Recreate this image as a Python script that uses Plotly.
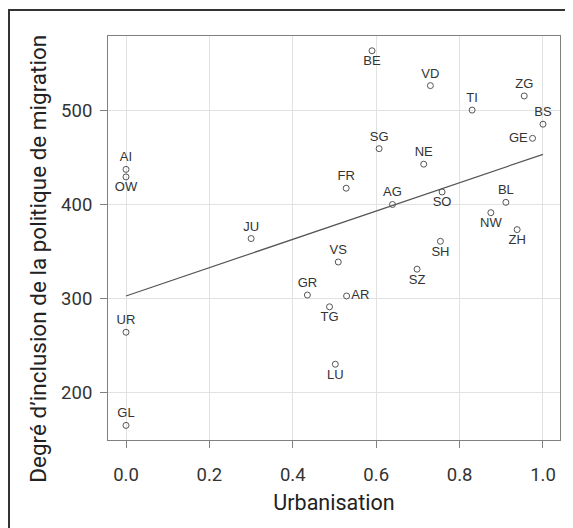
import plotly.graph_objects as go

cantons = ["AI", "OW", "JU", "BE", "VD", "TI", "ZG", "BS", "GE", "SG", "NE", "FR", "AG", "SO",
           "BL", "NW", "ZH", "VS", "SH", "SZ", "AR", "TG", "LU", "GR", "UR", "GL"]
urbanisation = [0.0, 0.0, 0.30, 0.59, 0.73, 0.83, 0.955, 1.0, 0.975, 0.607, 0.714, 0.528, 0.639, 0.758,
                0.911, 0.875, 0.938, 0.509, 0.754, 0.698, 0.529, 0.488, 0.502, 0.435, 0.0, 0.0]
inclusion = [437, 429, 363.5, 563, 526, 500, 515, 485, 470, 459, 442.5, 417, 399.7, 413,
             402, 391, 373, 338.6, 360.6, 331, 302.5, 291, 230, 303.5, 264, 165]
label_pos = ["top center", "bottom center", "top center", "bottom center", "top center", "top center",
             "top center", "top center", "middle left", "top center", "top center", "top center",
             "top center", "bottom center", "top center", "bottom center", "bottom center",
             "top center", "bottom center", "bottom center", "middle right", "bottom center",
             "bottom center", "top center", "top center", "top center"]

fit_intercept = 302.5
fit_slope = 150.5
fit_x = [0.0, 1.0]
fit_y = [fit_intercept + fit_slope * v for v in fit_x]

x_ticks = [0.0, 0.2, 0.4, 0.6, 0.8, 1.0]
x_ticklabels = ["0.0", "0.2", "0.4", "0.6", "0.8", "1.0"]
y_ticks = [200, 300, 400, 500]
x_title = "Urbanisation"
y_title = "Degré d’inclusion de la politique de migration"

fig = go.Figure()
fig.add_trace(go.Scatter(x=fit_x, y=fit_y, mode="lines",
                         line=dict(color="#555555", width=1.2), hoverinfo="skip", showlegend=False))
fig.add_trace(go.Scatter(x=urbanisation, y=inclusion, mode="markers+text", text=cantons,
                         textposition=label_pos,
                         textfont=dict(family="Liberation Sans, Arial", size=13, color="#333333"),
                         marker=dict(symbol="circle-open", size=6, color="#555555",
                                     line=dict(width=1, color="#555555")),
                         showlegend=False))

axis_font = dict(family="Roboto, DejaVu Sans", size=18.5, color="#333333")
title_font = dict(family="Roboto, DejaVu Sans", size=21.5, color="#222222")
fig.update_layout(
    width=565, height=520,
    margin=dict(l=100, r=13, t=28, b=87.5),
    paper_bgcolor="white", plot_bgcolor="white",
    xaxis=dict(range=[-0.0432, 1.0408], tickvals=x_ticks, ticktext=x_ticklabels,
               showgrid=True, gridcolor="#e2e2e2", gridwidth=1, zeroline=False,
               showline=True, linecolor="#808080", linewidth=1, mirror=True,
               ticks="outside", ticklen=7, tickcolor="#808080",
               tickfont=axis_font, ticklabelstandoff=11, automargin=False,
               title=dict(text=x_title, font=title_font, standoff=9)),
    yaxis=dict(range=[149.5, 578.7], tickvals=y_ticks,
               showgrid=True, gridcolor="#e2e2e2", gridwidth=1, zeroline=False,
               showline=True, linecolor="#808080", linewidth=1, mirror=True,
               ticks="outside", ticklen=7, tickcolor="#808080",
               tickfont=axis_font, ticklabelstandoff=4, automargin=False),
    annotations=[dict(text=y_title, xref="paper", yref="paper", x=-0.1549, y=0.4487,
                      xanchor="center", yanchor="middle", textangle=-90, showarrow=False,
                      font=dict(family="Roboto, DejaVu Sans", size=22.5, color="#222222"))],
    shapes=[dict(type="rect", xref="paper", yref="paper", x0=-0.219, x1=1.1, y0=-0.3, y1=1.0643,
                 line=dict(color="#333333", width=2), fillcolor="rgba(0,0,0,0)", layer="above")],
)

fig.write_html("out.html")
